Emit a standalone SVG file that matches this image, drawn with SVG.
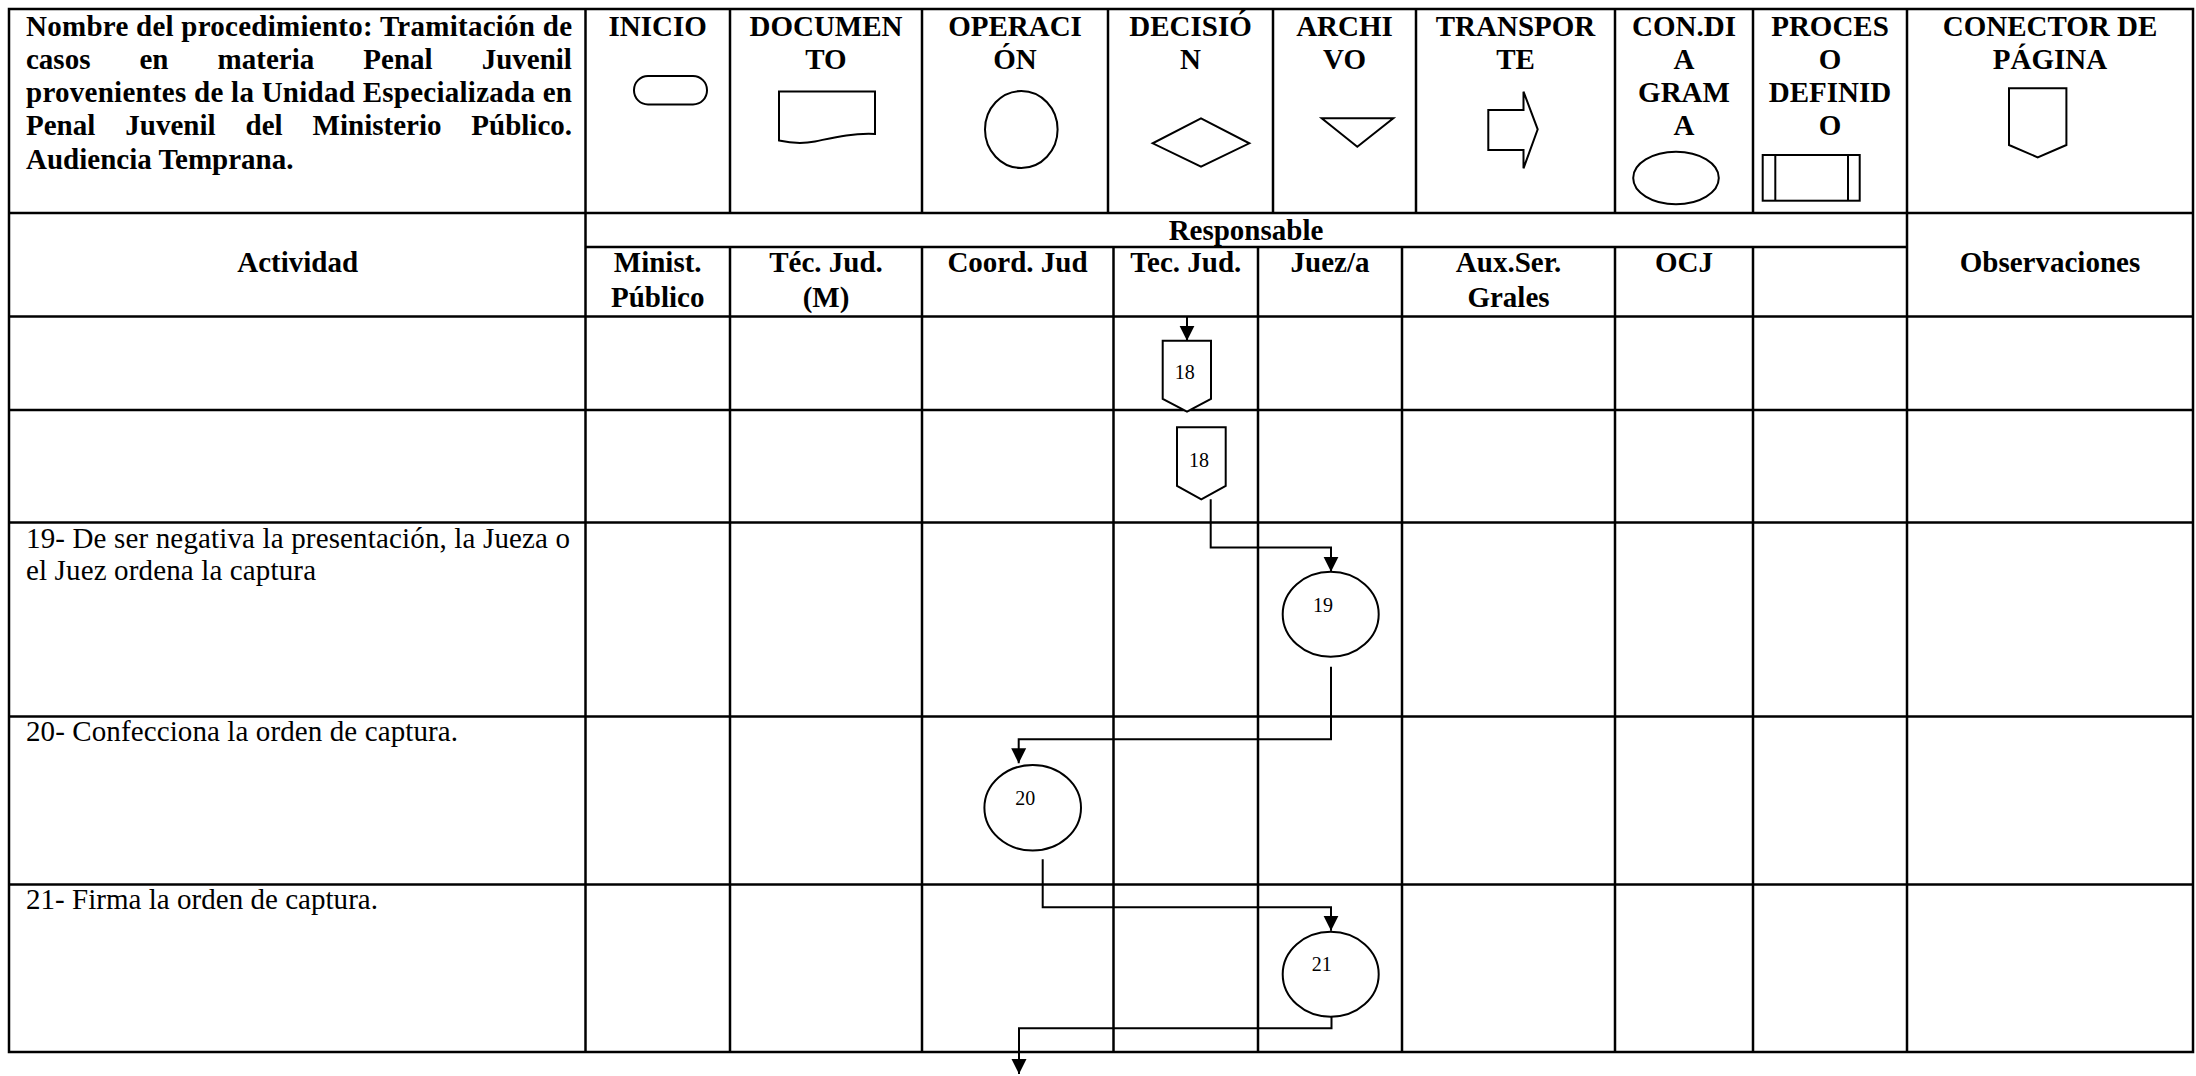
<svg xmlns="http://www.w3.org/2000/svg" width="2196" height="1076" viewBox="0 0 2196 1076">
<style>
.grid{stroke:#000;stroke-width:2.5;fill:none}
.ico{stroke:#000;stroke-width:2;fill:#fff}
.node{stroke:#000;stroke-width:2;fill:#fff}
.conn{stroke:#000;stroke-width:2;fill:none}
.h{font-family:"Liberation Serif","Times New Roman",serif;font-weight:bold;font-size:29px;fill:#000}
.hc{text-anchor:middle}
.b{font-family:"Liberation Serif","Times New Roman",serif;font-size:29px;fill:#000}
.n{font-family:"Liberation Serif","Times New Roman",serif;font-size:20px;fill:#000;text-anchor:middle}
</style>
<defs>
<marker id="arr" markerUnits="userSpaceOnUse" markerWidth="16" markerHeight="16" refX="15" refY="7.5" orient="auto" viewBox="0 0 16 15">
<path d="M0,0 L15,7.5 L0,15 Z" fill="#000"/>
</marker>
</defs>
<rect width="2196" height="1076" fill="#fff"/>

<g id="table">
<rect class="grid" x="9" y="9" width="2184" height="1043"/>
<line class="grid" x1="9" y1="213" x2="2193" y2="213"/>
<line class="grid" x1="585.5" y1="247" x2="1907" y2="247"/>
<line class="grid" x1="9" y1="316.5" x2="2193" y2="316.5"/>
<line class="grid" x1="9" y1="410" x2="2193" y2="410"/>
<line class="grid" x1="9" y1="522.5" x2="2193" y2="522.5"/>
<line class="grid" x1="9" y1="716.5" x2="2193" y2="716.5"/>
<line class="grid" x1="9" y1="884.5" x2="2193" y2="884.5"/>
<line class="grid" x1="585.5" y1="9" x2="585.5" y2="1052"/>
<line class="grid" x1="1907" y1="9" x2="1907" y2="1052"/>
<line class="grid" x1="730" y1="9" x2="730" y2="213"/>
<line class="grid" x1="922" y1="9" x2="922" y2="213"/>
<line class="grid" x1="1108" y1="9" x2="1108" y2="213"/>
<line class="grid" x1="1273" y1="9" x2="1273" y2="213"/>
<line class="grid" x1="1416" y1="9" x2="1416" y2="213"/>
<line class="grid" x1="1615" y1="9" x2="1615" y2="213"/>
<line class="grid" x1="1753" y1="9" x2="1753" y2="213"/>
<line class="grid" x1="730" y1="247" x2="730" y2="1052"/>
<line class="grid" x1="922" y1="247" x2="922" y2="1052"/>
<line class="grid" x1="1113.5" y1="247" x2="1113.5" y2="1052"/>
<line class="grid" x1="1258" y1="247" x2="1258" y2="1052"/>
<line class="grid" x1="1402" y1="247" x2="1402" y2="1052"/>
<line class="grid" x1="1615" y1="247" x2="1615" y2="1052"/>
<line class="grid" x1="1753" y1="247" x2="1753" y2="1052"/>
</g>

<g id="title">
<text class="h" x="26" y="35.5" textLength="546" lengthAdjust="spacing">Nombre del procedimiento: Tramitación de</text>
<text class="h" y="68.8"><tspan x="26">casos</tspan><tspan x="139.5">en</tspan><tspan x="217.6">materia</tspan><tspan x="363.3">Penal</tspan><tspan x="481.7">Juvenil</tspan></text>
<text class="h" x="26" y="102.1" textLength="546" lengthAdjust="spacing">provenientes de la Unidad Especializada en</text>
<text class="h" y="135.4"><tspan x="26">Penal</tspan><tspan x="125.3">Juvenil</tspan><tspan x="245.5">del</tspan><tspan x="312.6">Ministerio</tspan><tspan x="471.3">Público.</tspan></text>
<text class="h" x="26" y="168.7">Audiencia Temprana.</text>
</g>

<g id="legend-inicio">
<text class="h hc" x="657.7" y="35.5">INICIO</text>
<rect class="ico" x="634" y="76" width="73" height="28.5" rx="14" ry="14"/>
</g>
<g id="legend-documento">
<text class="h hc" x="826" y="35.5">DOCUMEN</text>
<text class="h hc" x="826" y="68.8">TO</text>
<path class="ico" d="M779,91.5 H875 V134 C850,133 832,138 815,141.5 C800,144.5 790,143 779,140.5 Z"/>
</g>
<g id="legend-operacion">
<text class="h hc" x="1015" y="35.5">OPERACI</text>
<text class="h hc" x="1015" y="68.8">ÓN</text>
<ellipse class="ico" cx="1021.3" cy="129.5" rx="36.3" ry="38.5"/>
</g>
<g id="legend-decision">
<text class="h hc" x="1190.5" y="35.5">DECISIÓ</text>
<text class="h hc" x="1190.5" y="68.8">N</text>
<polygon class="ico" points="1201,118.3 1249.3,143.3 1201,166.7 1152.7,143.3"/>
</g>
<g id="legend-archivo">
<text class="h hc" x="1344.5" y="35.5">ARCHI</text>
<text class="h hc" x="1344.5" y="68.8">VO</text>
<polygon class="ico" points="1321.7,118.3 1393.3,118.3 1357.3,146.7"/>
</g>
<g id="legend-transporte">
<text class="h hc" x="1515.5" y="35.5">TRANSPOR</text>
<text class="h hc" x="1515.5" y="68.8">TE</text>
<path class="ico" d="M1488.3,110 H1523.5 V91.7 L1537.7,129.3 L1523.5,168.3 V150 H1488.3 Z"/>
</g>
<g id="legend-condiagrama">
<text class="h hc" x="1684" y="35.5">CON.DI</text>
<text class="h hc" x="1684" y="68.8">A</text>
<text class="h hc" x="1684" y="102.1">GRAM</text>
<text class="h hc" x="1684" y="135.4">A</text>
<ellipse class="ico" cx="1676" cy="178" rx="42.8" ry="26.2"/>
</g>
<g id="legend-proceso">
<text class="h hc" x="1830" y="35.5">PROCES</text>
<text class="h hc" x="1830" y="68.8">O</text>
<text class="h hc" x="1830" y="102.1">DEFINID</text>
<text class="h hc" x="1830" y="135.4">O</text>
<rect class="ico" x="1762.7" y="155" width="97" height="45.7"/>
<line class="ico" x1="1775.3" y1="155" x2="1775.3" y2="200.7"/>
<line class="ico" x1="1848" y1="155" x2="1848" y2="200.7"/>
</g>
<g id="legend-conector">
<text class="h hc" x="2050" y="35.5">CONECTOR DE</text>
<text class="h hc" x="2050" y="68.8">PÁGINA</text>
<polygon class="ico" points="2009,88.3 2066.4,88.3 2066.4,145 2037.7,157.3 2009,145"/>
</g>

<g id="header-row">
<text class="h hc" x="297.7" y="272">Actividad</text>
<text class="h hc" x="1246" y="239.5">Responsable</text>
<text class="h hc" x="2050" y="272">Observaciones</text>
<text class="h hc" x="657.7" y="272">Minist.</text>
<text class="h hc" x="657.7" y="306.5">Público</text>
<text class="h hc" x="826" y="272">Téc. Jud.</text>
<text class="h hc" x="826" y="306.5">(M)</text>
<text class="h hc" x="1017.5" y="272">Coord. Jud</text>
<text class="h hc" x="1185.8" y="272">Tec. Jud.</text>
<text class="h hc" x="1330" y="272">Juez/a</text>
<text class="h hc" x="1508.5" y="272">Aux.Ser.</text>
<text class="h hc" x="1508.5" y="306.5">Grales</text>
<text class="h hc" x="1684" y="272">OCJ</text>
</g>

<g id="activities">
<text class="b" x="26" y="547.5" textLength="544" lengthAdjust="spacing">19- De ser negativa la presentación, la Jueza o</text>
<text class="b" x="26" y="580" textLength="290" lengthAdjust="spacing">el Juez ordena la captura</text>
<text class="b" x="26" y="741" textLength="432" lengthAdjust="spacing">20- Confecciona la orden de captura.</text>
<text class="b" x="26" y="908.5" textLength="352" lengthAdjust="spacing">21- Firma la orden de captura.</text>
</g>

<g id="connectors">
<path class="conn" d="M1187,316.5 V340.7" marker-end="url(#arr)"/>
<path class="conn" d="M1210.7,499.3 V547.5 H1331 V571.7" marker-end="url(#arr)"/>
<path class="conn" d="M1331,666.7 V739.3 H1018.7 V763.3" marker-end="url(#arr)"/>
<path class="conn" d="M1042.7,859.3 V907.3 H1331 V930.7" marker-end="url(#arr)"/>
<path class="conn" d="M1331.5,1004 V1028.3 H1019 V1074" marker-end="url(#arr)"/>
</g>

<g id="node-18a">
<polygon class="node" points="1162.7,340.7 1211,340.7 1211,399 1187,411.7 1162.7,399"/>
<text class="n" x="1184.7" y="379">18</text>
</g>
<g id="node-18b">
<polygon class="node" points="1177,427.3 1225.7,427.3 1225.7,486 1201.3,499.3 1177,486"/>
<text class="n" x="1199" y="466.7">18</text>
</g>
<g id="node-19">
<ellipse class="node" cx="1330.7" cy="614.2" rx="48" ry="42.5"/>
<text class="n" x="1323" y="611.7">19</text>
</g>
<g id="node-20">
<ellipse class="node" cx="1032.7" cy="807.8" rx="48.3" ry="42.8"/>
<text class="n" x="1025.3" y="805">20</text>
</g>
<g id="node-21">
<ellipse class="node" cx="1330.7" cy="974.2" rx="48" ry="42.5"/>
<text class="n" x="1321.7" y="970.7">21</text>
</g>
</svg>
